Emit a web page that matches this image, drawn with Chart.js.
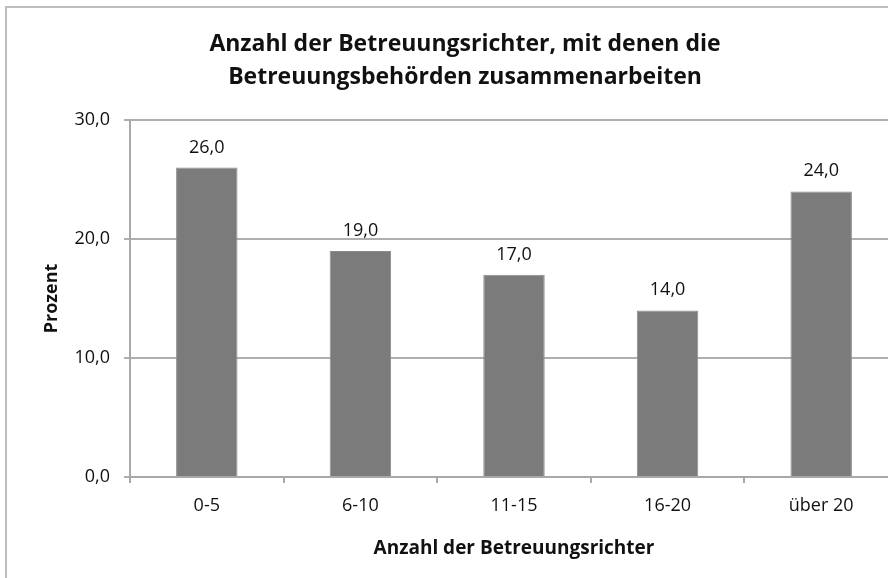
<!DOCTYPE html>
<html>
<head>
<meta charset="utf-8">
<script src="https://cdn.jsdelivr.net/npm/chart.js@4.4.0/dist/chart.umd.min.js"></script>
<style>
    html, body { margin: 0; padding: 0; background: #fff; overflow: hidden; }
    #rahmen {
        position: absolute; left: 5px; top: 6px; width: 950px; height: 600px;
        border-left: 2px solid #bdbdbd; border-top: 2px solid #bdbdbd;
    }
    #box { position: absolute; left: 0; top: 0; width: 898px; height: 578px; }
</style>
</head>
<body>
<div id="rahmen"></div>
<div id="box"><canvas id="myChart"></canvas></div>
<script>
const kategorien = ['0-5', '6-10', '11-15', '16-20', 'über 20'];
const prozent = [26.0, 19.0, 17.0, 14.0, 24.0];
const titelZeilen = ['Anzahl der Betreuungsrichter, mit denen die', 'Betreuungsbehörden zusammenarbeiten'];
const xTitel = 'Anzahl der Betreuungsrichter';
const yTitel = 'Prozent';

const komma = function(v) {
    return Number(v).toFixed(1).replace('.', ',');
};

// Werte ueber die Balken schreiben
const wertLabels = {
    id: 'wertLabels',
    afterDatasetsDraw(chart) {
        const ctx = chart.ctx;
        const meta = chart.getDatasetMeta(0);
        ctx.save();
        ctx.font = '18px "Open Sans"';
        ctx.fillStyle = '#111';
        ctx.textAlign = 'center';
        ctx.textBaseline = 'alphabetic';
        meta.data.forEach(function(bar, i) {
            ctx.fillText(komma(prozent[i]), bar.x, bar.y - 15);
        });
        ctx.restore();
    }
};

const ctx = document.getElementById('myChart').getContext('2d');

const chart = new Chart(ctx, {
    type: 'bar',
    data: {
        labels: kategorien,
        datasets: [{
            data: prozent,
            backgroundColor: '#7b7b7b',
            borderColor: '#8c8c8c',
            borderWidth: 1,
            barPercentage: 0.4,
            categoryPercentage: 1.0
        }]
    },
    options: {
        responsive: true,
        maintainAspectRatio: false,
        animation: false,
        layout: {
            padding: { left: 32, right: 0, top: 0, bottom: 0 }
        },
        scales: {
            x: {
                afterFit: function(scale) { scale.height = 101; },
                grid: {
                    drawOnChartArea: false,
                    drawTicks: true,
                    tickLength: 6,
                    color: '#a8a8a8',
                    lineWidth: 2
                },
                border: { color: '#a8a8a8', width: 2 },
                ticks: {
                    color: '#111',
                    font: { family: 'Open Sans', size: 18 },
                    padding: 12
                },
                title: {
                    display: true,
                    text: xTitel,
                    color: '#111',
                    font: { family: 'Open Sans', size: 19, weight: 'bold' },
                    padding: { top: 0, bottom: 18 }
                }
            },
            y: {
                min: 0,
                max: 30,
                afterFit: function(scale) { scale.width = 98; },
                ticks: {
                    stepSize: 10,
                    color: '#111',
                    font: { family: 'Open Sans', size: 18 },
                    padding: 14,
                    callback: function(v) { return komma(v); }
                },
                grid: {
                    color: '#afafaf',
                    lineWidth: 2,
                    tickLength: 6
                },
                border: { color: '#a8a8a8', width: 2 },
                title: {
                    display: true,
                    text: yTitel,
                    color: '#111',
                    font: { family: 'Open Sans', size: 18, weight: 'bold' },
                    padding: { top: 9, bottom: 0 }
                }
            }
        },
        plugins: {
            legend: { display: false },
            tooltip: { enabled: false },
            title: {
                display: true,
                text: titelZeilen,
                color: '#111',
                font: { family: 'Open Sans', size: 23, weight: 'bold', lineHeight: '33px' },
                padding: { top: 28, bottom: 26 }
            }
        }
    },
    plugins: [wertLabels]
});
</script>
</body>
</html>
